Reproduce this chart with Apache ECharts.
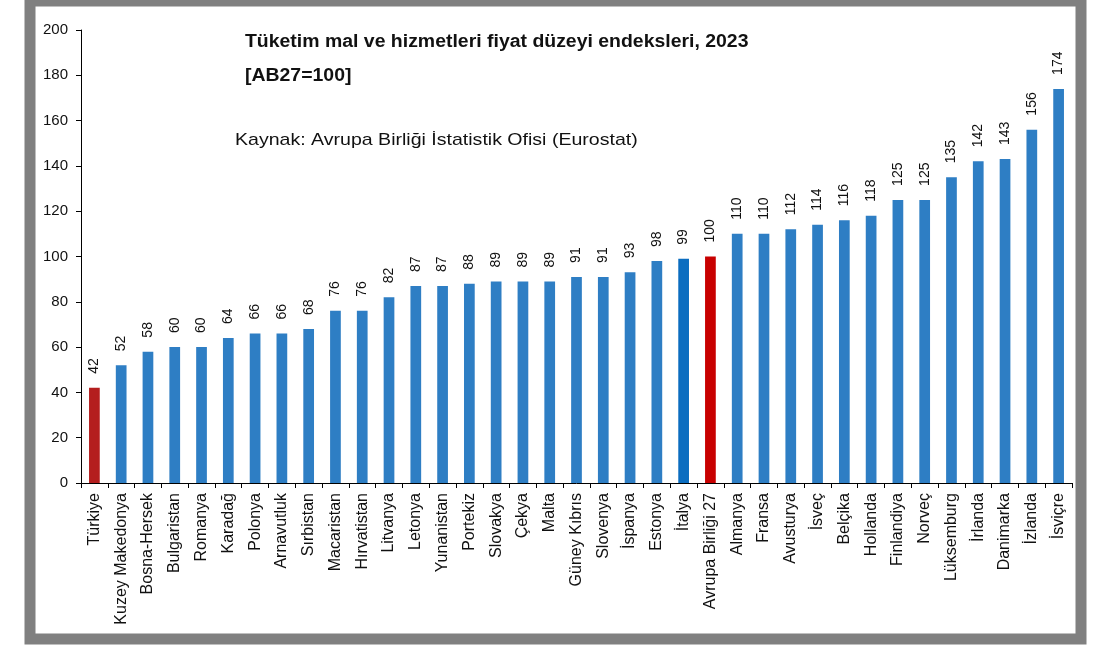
<!DOCTYPE html>
<html>
<head>
<meta charset="utf-8">
<script src="https://cdn.jsdelivr.net/npm/echarts@6/dist/echarts.min.js"></script>
<style>html,body{margin:0;padding:0;background:#fff;}#c{width:1100px;height:650px;}</style>
</head>
<body>
<div id="c"></div>
<script>
const categories = ['Türkiye','Kuzey Makedonya','Bosna-Hersek','Bulgaristan','Romanya','Karadağ','Polonya','Arnavutluk','Sırbistan','Macaristan','Hırvatistan','Litvanya','Letonya','Yunanistan','Portekiz','Slovakya','Çekya','Malta','Güney Kıbrıs','Slovenya','İspanya','Estonya','İtalya','Avrupa Birliği 27','Almanya','Fransa','Avusturya','İsveç','Belçika','Hollanda','Finlandiya','Norveç','Lüksemburg','İrlanda','Danimarka','İzlanda','İsviçre'];
const values = [42,52,58,60,60,64,66,66,68,76,76,82,87,87,88,89,89,89,91,91,93,98,99,100,110,110,112,114,116,118,125,125,135,142,143,156,174];
const yTicks = [0,20,40,60,80,100,120,140,160,180,200];
const titleLines = ['Tüketim mal ve hizmetleri fiyat düzeyi endeksleri, 2023','[AB27=100]'];
const sourceText = 'Kaynak: Avrupa Birliği İstatistik Ofisi (Eurostat)';

const FONT = 'Liberation Sans, Arial, sans-serif';
const colorFor = (name) => {
  if (name === 'Türkiye') return '#B41E1E';
  if (name === 'Avrupa Birliği 27') return '#C80000';
  if (name === 'İtalya') return '#0B6DC0';
  return '#2E7EC4';
};

const chart = echarts.init(document.getElementById('c'));
chart.setOption({
  animation: false,
  backgroundColor: '#fff',
  textStyle: { fontFamily: FONT },
  graphic: [
    { type: 'text', x: 245, y: 33, scaleX: 1.08,
      style: { text: titleLines[0], font: 'bold 18px ' + FONT, fill: '#111' } },
    { type: 'text', x: 245, y: 67, scaleX: 1.08,
      style: { text: titleLines[1], font: 'bold 18px ' + FONT, fill: '#111' } },
    { type: 'text', x: 235, y: 132, scaleX: 1.15,
      style: { text: sourceText, font: '17px ' + FONT, fill: '#111' } },
    { type: 'rect', shape: { x: 30, y: 1, width: 1051, height: 638 },
      style: { fill: 'none', stroke: '#808080', lineWidth: 11 }, z: 100 }
  ],
  grid: { left: 81, right: 28, top: 30, bottom: 167 },
  xAxis: {
    type: 'category',
    data: categories,
    axisLine: { lineStyle: { color: '#000', width: 1 } },
    axisTick: { show: true, length: 5, lineStyle: { color: '#000' }, alignWithLabel: false },
    axisLabel: { rotate: 90, interval: 0, fontSize: 16, color: '#111', margin: 10 }
  },
  yAxis: {
    type: 'value',
    min: 0, max: 200, interval: 20,
    splitLine: { show: false },
    axisLine: { show: true, lineStyle: { color: '#000', width: 1 } },
    axisTick: { show: true, length: 5, lineStyle: { color: '#000' } },
    axisLabel: { fontSize: 15, color: '#111', margin: 13,
      formatter: (v) => yTicks.includes(v) ? String(v) : '' }
  },
  series: [{
    type: 'bar',
    barWidth: '40%',
    data: values.map((v, i) => ({ value: v, itemStyle: { color: colorFor(categories[i]) } })),
    label: {
      show: true, position: 'top', rotate: 90, align: 'left', verticalAlign: 'middle',
      distance: 14, fontSize: 14, color: '#111'
    }
  }]
});
</script>
</body>
</html>
